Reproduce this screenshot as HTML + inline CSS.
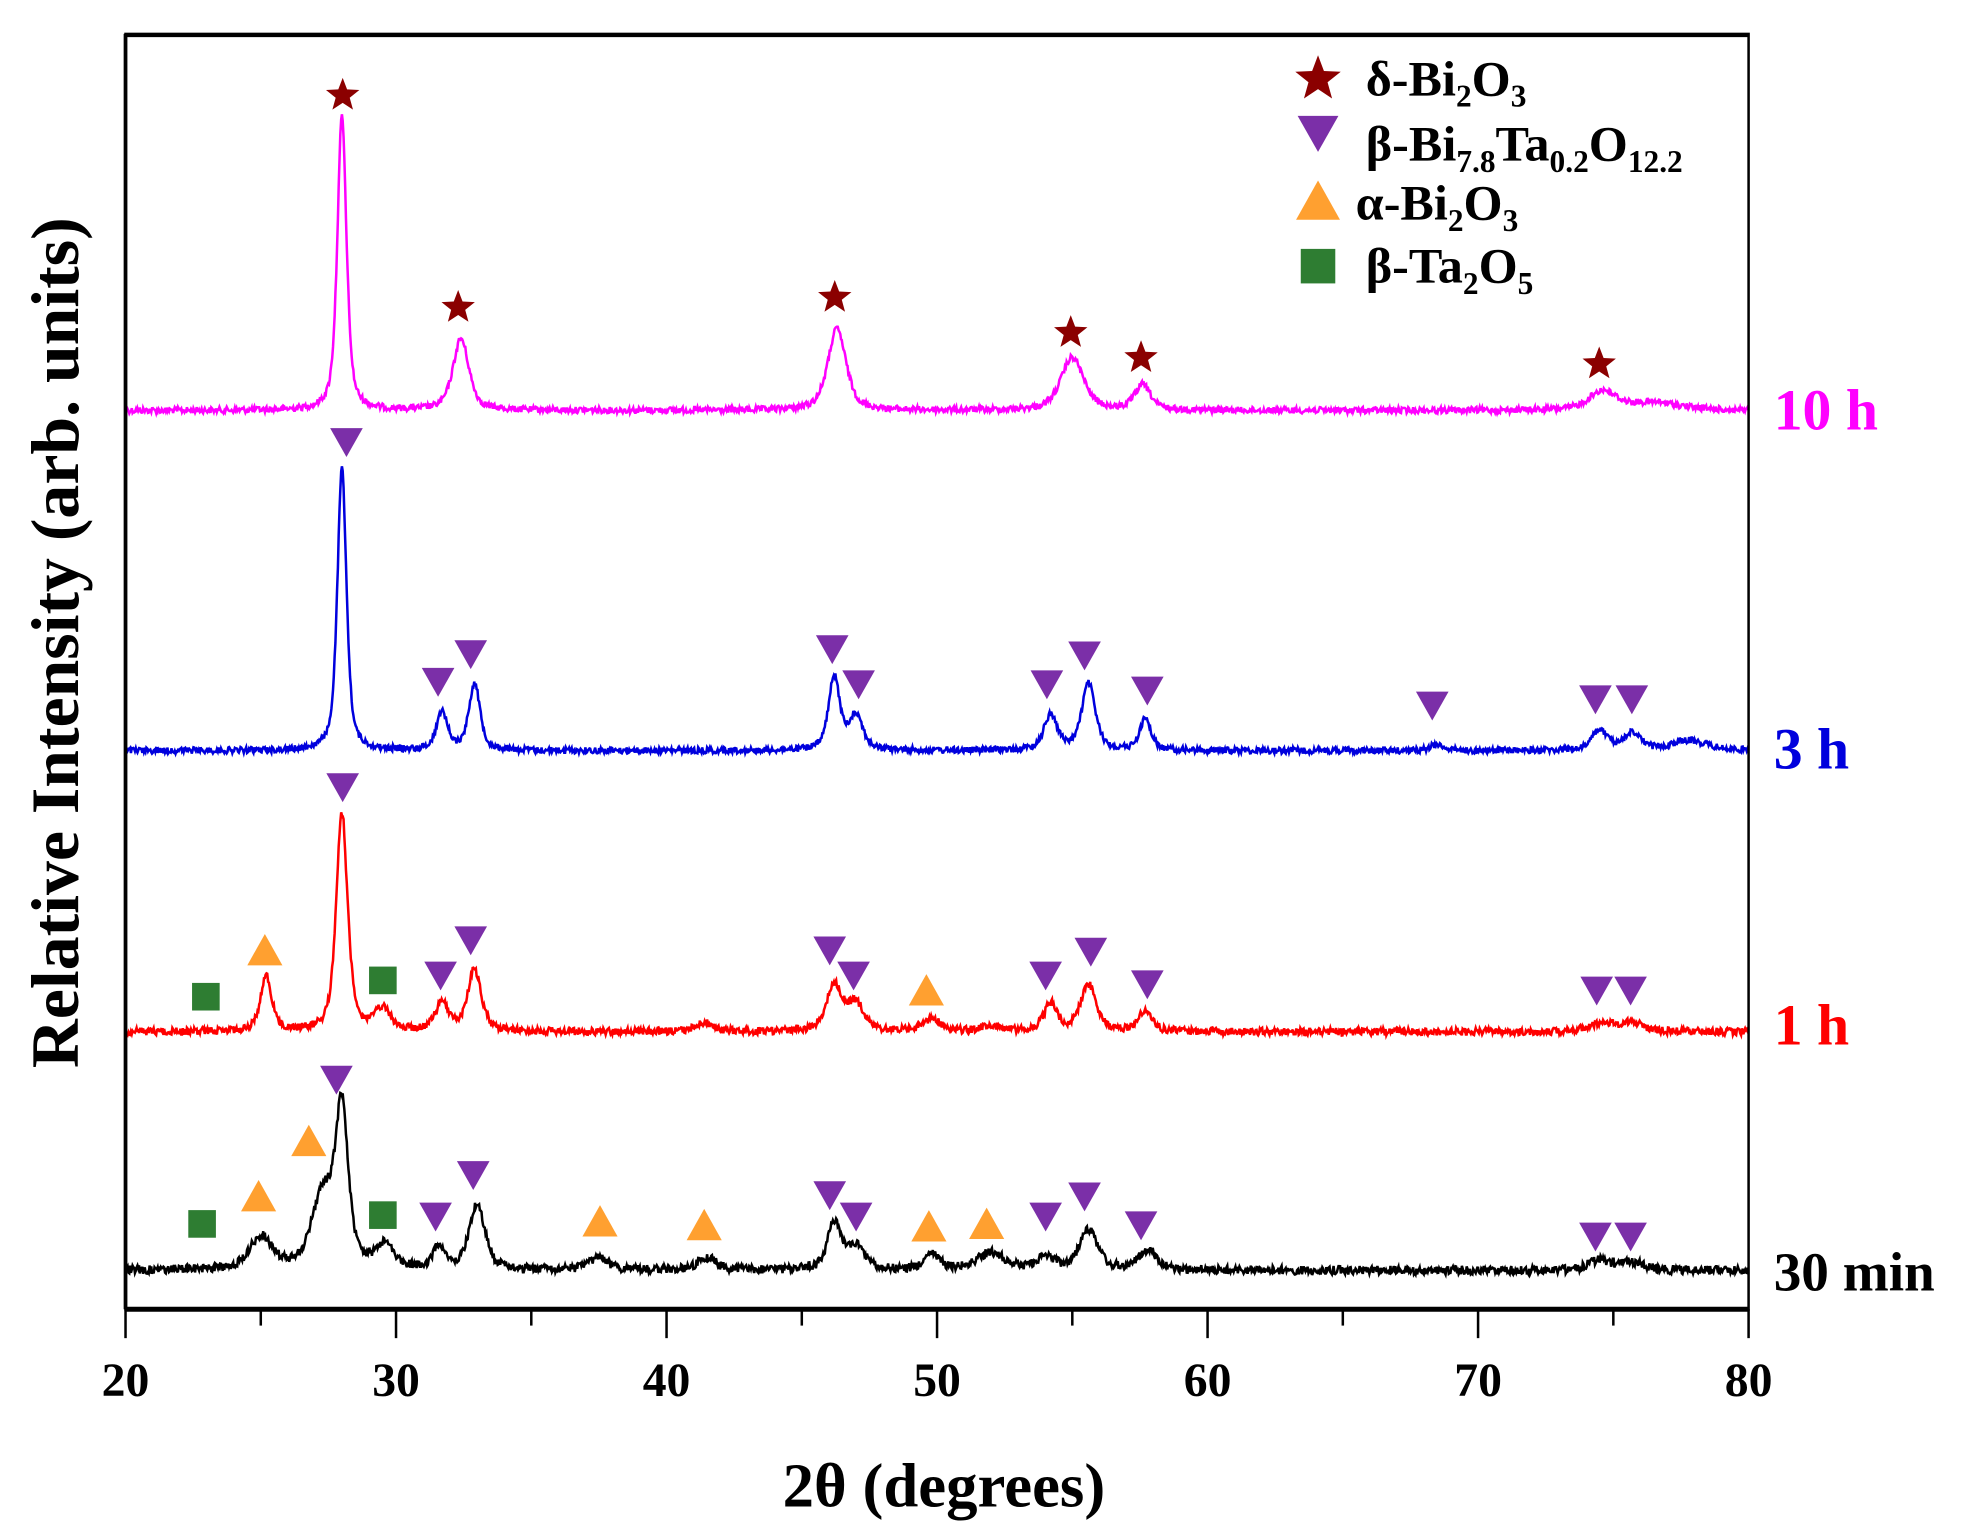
<!DOCTYPE html>
<html><head><meta charset="utf-8"><style>
html,body{margin:0;padding:0;background:#fff;}
svg{display:block;}
text{font-family:"Liberation Serif",serif;font-weight:bold;}
</style></head><body>
<svg id="s" width="1967" height="1534" viewBox="0 0 1567 1222" xmlns="http://www.w3.org/2000/svg">
<g id="curves" fill="none" stroke-width="2"></g>
<g id="marks"></g>
<rect x="100" y="27" width="1293" height="1016" fill="none" stroke="#000" stroke-width="2"/>
<line x1="100" y1="28" x2="1393" y2="28" stroke="#000" stroke-width="3"/>
<line x1="100" y1="1043" x2="1393" y2="1043" stroke="#000" stroke-width="4"/>
<line x1="100" y1="27" x2="100" y2="1043" stroke="#000" stroke-width="3"/>
<g id="ticks" stroke="#000" stroke-width="2"></g>
<g font-size="38" text-anchor="middle">
<text x="100" y="1112">20</text><text x="315.5" y="1112">30</text><text x="531" y="1112">40</text>
<text x="746.5" y="1112">50</text><text x="962" y="1112">60</text><text x="1177.5" y="1112">70</text><text x="1393" y="1112">80</text>
</g>
<text x="752" y="1200" font-size="50" text-anchor="middle">2θ (degrees)</text>
<text transform="translate(62,512) rotate(-90)" font-size="54" text-anchor="middle">Relative Intensity (arb. units)</text>
<text x="1413" y="342" font-size="46" fill="#ff00ff">10 h</text>
<text x="1413" y="612" font-size="46" fill="#0000dd">3 h</text>
<text x="1413" y="832" font-size="46" fill="#ff0000">1 h</text>
<text x="1413" y="1028" font-size="44" fill="#000">30 min</text>
<g font-size="40">
<text x="1088" y="76">δ-Bi<tspan font-size="25" dy="9">2</tspan><tspan dy="-9">O</tspan><tspan font-size="25" dy="9">3</tspan></text>
<text x="1088" y="128">β-Bi<tspan font-size="25" dy="9">7.8</tspan><tspan dy="-9">Ta</tspan><tspan font-size="25" dy="9">0.2</tspan><tspan dy="-9">O</tspan><tspan font-size="25" dy="9">12.2</tspan></text>
<text x="1080" y="175">α-Bi<tspan font-size="25" dy="9">2</tspan><tspan dy="-9">O</tspan><tspan font-size="25" dy="9">3</tspan></text>
<text x="1088" y="225">β-Ta<tspan font-size="25" dy="9">2</tspan><tspan dy="-9">O</tspan><tspan font-size="25" dy="9">5</tspan></text>
</g>
</svg>
<script>
var NS="http://www.w3.org/2000/svg";
function X(v){return 100+(v-20)*21.55;}
var seed=12345;function rnd(){seed=(seed*1103515245+12345)%2147483648;return seed/2147483648;}
var series=[
 {c:"#ff00ff",b:327,n:2.5,p:[[28.0,235,0.2],[32.4,57,0.35],[46.3,65,0.4],[55.0,42,0.5],[57.6,20,0.35],[74.6,15,0.6],[76.5,6,1.2]]},
 {c:"#0000dd",b:598,n:2.5,p:[[28.0,225,0.2],[31.7,30,0.25],[32.9,53,0.25],[46.2,58,0.25],[47.0,28,0.3],[54.2,28,0.3],[55.6,53,0.3],[57.7,25,0.25],[68.5,5,0.3],[74.5,16,0.35],[75.7,14,0.35],[77.8,8,0.8]]},
 {c:"#ff0000",b:822,n:3,p:[[28.0,174,0.25],[25.2,44,0.25],[29.5,17,0.35],[31.7,22,0.3],[32.9,49,0.3],[41.4,7,0.4],[46.2,37,0.35],[47.0,22,0.35],[49.8,10,0.4],[52.0,4,0.5],[54.2,22,0.3],[55.6,37,0.35],[57.7,17,0.3],[74.6,7,0.6],[75.7,7,0.5]]},
 {c:"#000",b:1012,n:3.5,p:[[28.0,122,0.28],[27.3,58,0.5],[25.0,26,0.5],[29.6,19,0.4],[31.6,19,0.25],[33.0,52,0.35],[37.5,10,0.4],[41.5,10,0.4],[46.2,37,0.3],[47.0,18,0.4],[49.8,12,0.35],[52.0,14,0.6],[54.0,10,0.4],[55.6,32,0.4],[57.8,16,0.4],[74.5,8,0.5],[75.7,6,0.5]]}
];
var g=document.getElementById("curves");
series.forEach(function(s){
 var d="";
 for(var v=20.05;v<=80;v+=0.03){
  var y=0;s.p.forEach(function(q){var t=(v-q[0])/q[2];y+=q[1]*(0.6/(1+t*t)+0.4*Math.exp(-t*t*0.7));});
  y=s.b-y+(rnd()-0.5)*2*s.n;
  d+=(d?"L":"M")+X(v).toFixed(1)+","+y.toFixed(1);
 }
 var p=document.createElementNS(NS,"path");p.setAttribute("d",d);p.setAttribute("stroke",s.c);g.appendChild(p);
});
var t=document.getElementById("ticks");
for(var v=20;v<=80;v+=5){var l=document.createElementNS(NS,"line");l.setAttribute("x1",X(v));l.setAttribute("x2",X(v));l.setAttribute("y1",1043);l.setAttribute("y2",v%10==0?1066:1056);t.appendChild(l);}
var m=document.getElementById("marks");
function add(tag,attrs){var e=document.createElementNS(NS,tag);for(var k in attrs)e.setAttribute(k,attrs[k]);m.appendChild(e);}
function star(x,y,r){var pts=[];for(var i=0;i<10;i++){var a=-Math.PI/2+i*Math.PI/5,rr=i%2?r*0.42:r;pts.push((x+rr*Math.cos(a)).toFixed(1)+","+(y+rr*Math.sin(a)).toFixed(1));}add("polygon",{points:pts.join(" "),fill:"#8b0000"});}
function dn(x,y,k){k=k||1;add("polygon",{points:(x-13*k)+","+(y-11*k)+" "+(x+13*k)+","+(y-11*k)+" "+x+","+(y+12*k),fill:"#7b2fa8"});}
function up(x,y,k){k=k||1;add("polygon",{points:(x-14*k)+","+(y+12*k)+" "+(x+14*k)+","+(y+12*k)+" "+x+","+(y-13*k),fill:"#ffa030"});}
function sq(x,y,k){k=k||1;add("rect",{x:x-11*k,y:y-11*k,width:22*k,height:22*k,fill:"#2e7d32"});}
[[273,76],[365,245],[665,237],[853,265],[909,285],[1274,290]].forEach(function(a){star(a[0],a[1],14);});
[[276,352],[349,543],[375,521],[663,517],[684,545],[834,545],[864,522],[914,550],[1141,562],[1271,557],[1300,557],
 [273,627],[351,777],[375,749],[661,757],[680,777],[833,777],[869,758],[914,784],[1272,789],[1299,789],
 [268,860],[347,969],[377,936],[661,952],[682,969],[833,969],[864,953],[909,976],[1271,985],[1299,985]].forEach(function(a){dn(a[0],a[1]);});
[[211,757],[738,789],[246,909],[206,953],[478,973],[561,976],[740,977],[786,975]].forEach(function(a){up(a[0],a[1]);});
[[164,794],[305,781],[161,975],[305,968]].forEach(function(a){sq(a[0],a[1]);});
star(1050,63,19);dn(1050,106,1.25);up(1050,160,1.25);sq(1050,212,1.25);
</script>
</body></html>
